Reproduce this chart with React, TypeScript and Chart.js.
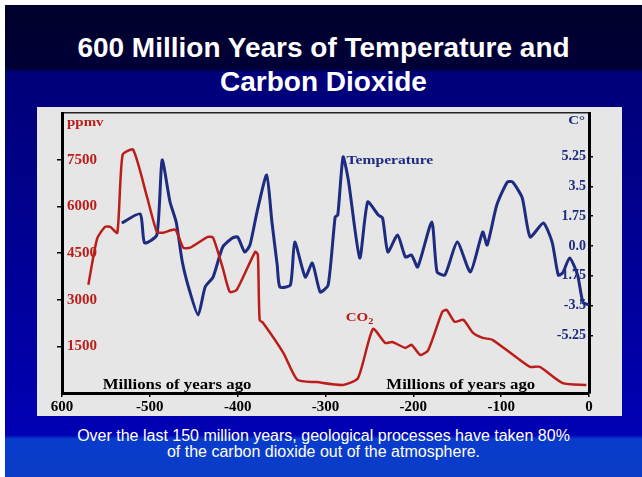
import React, { useEffect, useRef } from "react";
import { Chart, registerables } from "chart.js";

Chart.register(...registerables);

// ---- Data ----
const co2Years = [-570, -560, -551, -545, -537, -531, -519, -503, -492, -485, -471, -462, -454, -434, -428, -417, -409, -401, -380, -377, -375, -371, -348, -332, -310, -280, -263, -246, -232, -224, -209, -202, -192, -183, -167, -162, -153, -143, -132, -121, -110, -82, -67, -56, -30, -3];
const co2Ppm = [3480, 4960, 5340, 5340, 5150, 7660, 7820, 6280, 5180, 5150, 5250, 4670, 4670, 5020, 4990, 4020, 3250, 3320, 4540, 4440, 2350, 2250, 1290, 420, 350, 260, 480, 2060, 1610, 1640, 1450, 1550, 1220, 1380, 2610, 2670, 2290, 2350, 1930, 1770, 1710, 1130, 840, 840, 320, 260];

const tempYears = [-532, -511, -506, -492, -486, -477, -470, -463, -455, -445, -437, -428, -417, -406, -400, -392, -386, -378, -367, -361, -355, -352, -340, -335, -323, -315, -306, -297, -289, -286, -280, -274, -261, -252, -240, -235, -229, -218, -209, -202, -195, -179, -173, -164, -150, -135, -121, -116, -105, -93, -87, -76, -67, -52, -42, -35, -30, -22, -13, -7, 0];
const tempC = [1.35, 1.88, 0.18, 0.65, 5.04, 2.58, 1.41, -0.94, -2.58, -4.05, -2.4, -1.82, -0.06, 0.47, 0.53, -0.35, 0.06, 1.99, 4.16, 1.41, -1.11, -2.4, -2.29, 0.23, -1.82, -1.0, -2.7, -2.29, 1.7, 1.82, 5.22, 3.87, -0.7, 2.58, 1.82, 1.64, -0.35, 0.65, -0.65, -0.53, -1.23, 1.41, -1.52, -1.7, 0.23, -1.52, 0.82, 0.06, 2.4, 3.75, 3.75, 2.82, 0.53, 1.35, 0.23, -1.7, -1.58, -0.7, -1.7, -3.28, -3.46];

const xTicks = [-600, -500, -400, -300, -200, -100, 0];
const xTickLabels = ["600", "-500", "-400", "-300", "-200", "-100", "0"];
const ppmTicks = [1500, 3000, 4500, 6000, 7500];
const ppmTickLabels = ["1500", "3000", "4500", "6000", "7500"];
const tempTicks = [5.25, 3.5, 1.75, 0, -1.75, -3.5, -5.25];
const tempTickLabels = ["5.25", "3.5", "1.75", "0.0", "-1.75", "-3.5", "-5.25"];

const titleLines = ["600 Million Years of Temperature and", "Carbon Dioxide"];
const captionLines = [
  "Over the last 150 million years, geological processes have taken 80%",
  "of the carbon dioxide out of the atmosphere.",
];
const xAxisNote = "Millions of years ago";

const RED = "#bb1e1a";
const BLUE = "#1d2b80";
const SERIF = '"Liberation Serif", "Times New Roman", serif';

function stretchedText(ctx: any, text: string, x: number, y: number, sx: number, align: string) {
  const w = ctx.measureText(text).width * sx;
  let left = x;
  if (align === "center") left = x - w / 2;
  else if (align === "right") left = x - w;
  ctx.save();
  ctx.textAlign = "left";
  ctx.translate(left, y);
  ctx.scale(sx, 1);
  ctx.fillText(text, 0, 0);
  ctx.restore();
  return w;
}

function fixSize(prop: "width" | "height", size: number) {
  return (s: any) => {
    s[prop] = size;
    s.paddingTop = 0;
    s.paddingBottom = 0;
    s.paddingLeft = 0;
    s.paddingRight = 0;
  };
}

const annotations = {
  id: "annotations",
  afterDatasetsDraw(chart: any) {
    const { ctx, chartArea, scales } = chart;
    const x = scales.x;
    const yL = scales.yL;
    const yR = scales.yR;
    ctx.save();
    ctx.textBaseline = "middle";

    ctx.font = `bold 13px ${SERIF}`;
    ctx.fillStyle = RED;
    stretchedText(ctx, "ppmv", chartArea.left + 5, yL.getPixelForValue(8700), 1.15, "left");

    ctx.fillStyle = BLUE;
    stretchedText(ctx, "C°", chartArea.right - 4, yR.getPixelForValue(7.35), 1.15, "right");

    ctx.font = `bold 12px ${SERIF}`;
    stretchedText(ctx, "Temperature", x.getPixelForValue(-276), yR.getPixelForValue(5.0), 1.3, "left");

    ctx.font = `bold 13px ${SERIF}`;
    ctx.fillStyle = RED;
    const cx = x.getPixelForValue(-277);
    const cy = yL.getPixelForValue(2420);
    const w = stretchedText(ctx, "CO", cx, cy, 1.15, "left");
    ctx.font = `bold 9px ${SERIF}`;
    stretchedText(ctx, "2", cx + w, cy + 4, 1.15, "left");

    ctx.font = `bold 15px ${SERIF}`;
    ctx.fillStyle = "#000";
    stretchedText(ctx, xAxisNote, x.getPixelForValue(-469), yL.getPixelForValue(250), 1.12, "center");
    stretchedText(ctx, xAxisNote, x.getPixelForValue(-146), yL.getPixelForValue(250), 1.12, "center");
    ctx.restore();
  },
};

export default function App() {
  const ref = useRef<HTMLCanvasElement>(null);

  useEffect(() => {
    document.body.style.margin = "0";
    const chart = new Chart(ref.current as HTMLCanvasElement, {
      type: "line",
      data: {
        datasets: [
          {
            label: "CO2",
            data: co2Years.map((yr, i) => ({ x: yr, y: co2Ppm[i] })),
            xAxisID: "x",
            yAxisID: "yL",
            borderColor: RED,
            borderWidth: 2.5,
            pointRadius: 0,
            tension: 0.2,
          },
          {
            label: "Temperature",
            data: tempYears.map((yr, i) => ({ x: yr, y: tempC[i] })),
            xAxisID: "x",
            yAxisID: "yR",
            borderColor: BLUE,
            borderWidth: 3,
            pointRadius: 0,
            tension: 0.2,
          },
        ],
      },
      options: {
        responsive: false,
        animation: false,
        layout: { padding: 0 },
        plugins: { legend: { display: false }, tooltip: { enabled: false } },
        scales: {
          x: {
            type: "linear",
            position: "bottom",
            min: -600,
            max: 0,
            afterBuildTicks: (s: any) => {
              s.ticks = xTicks.map((v) => ({ value: v }));
            },
            afterFit: fixSize("height", 23),
            ticks: {
              autoSkip: false,
              maxRotation: 0,
              padding: 1,
              color: "#000",
              font: { family: SERIF, size: 15, weight: "bold" },
              callback: (_v: any, i: number) => xTickLabels[i],
            },
            grid: { display: true, drawOnChartArea: false, drawTicks: true, tickLength: 4, color: "#000", lineWidth: 1.5 },
            border: { display: true, color: "#000", width: 3 },
          },
          xTop: {
            type: "linear",
            axis: "x",
            position: "top",
            min: -600,
            max: 0,
            afterFit: fixSize("height", 6),
            ticks: { display: false },
            grid: { display: false },
            border: { display: true, color: "#222", width: 1.5 },
          },
          yL: {
            type: "linear",
            position: "left",
            min: 0,
            max: 9000,
            afterBuildTicks: (s: any) => {
              s.ticks = ppmTicks.map((v) => ({ value: v }));
            },
            afterFit: fixSize("width", 25),
            ticks: {
              mirror: true,
              padding: 5,
              color: RED,
              font: { family: SERIF, size: 15, weight: "bold" },
              callback: (_v: any, i: number) => ppmTickLabels[i],
            },
            grid: { display: true, drawOnChartArea: false, drawTicks: true, tickLength: 5, color: "#000", lineWidth: 1.5 },
            border: { display: true, color: "#000", width: 3 },
          },
          yR: {
            type: "linear",
            position: "right",
            min: -8.62,
            max: 7.8,
            afterBuildTicks: (s: any) => {
              s.ticks = tempTicks.map((v) => ({ value: v }));
            },
            afterFit: fixSize("width", 33),
            ticks: {
              mirror: true,
              padding: -3,
              color: BLUE,
              font: { family: SERIF, size: 14, weight: "bold" },
              callback: (_v: any, i: number) => tempTickLabels[i],
            },
            grid: { display: true, drawOnChartArea: false, drawTicks: true, tickLength: 4, color: "#000", lineWidth: 1.5 },
            border: { display: true, color: "#000", width: 3 },
          },
        },
      } as any,
      plugins: [annotations],
    });
    return () => chart.destroy();
  }, []);

  return (
    <div style={{ position: "relative", width: 642, height: 477, background: "#fff", overflow: "hidden" }}>
      <div
        style={{
          position: "absolute",
          left: 5,
          top: 5,
          width: 637,
          height: 472,
          background:
            "linear-gradient(to bottom, #00002a 0px, #000038 64px, #000078 67px, #00008c 200px, #0000b4 430px, #0a3ccc 434px, #0a3cc8 472px)",
        }}
      >
        <div
          style={{
            position: "absolute",
            left: 0,
            right: 0,
            top: 26,
            textAlign: "center",
            color: "#fff",
            fontFamily: '"Liberation Sans", Arial, sans-serif',
            fontWeight: "bold",
            fontSize: 28,
            lineHeight: "34px",
            whiteSpace: "nowrap",
          }}
        >
          {titleLines[0]}
          <br />
          {titleLines[1]}
        </div>
        <div style={{ position: "absolute", left: 32, top: 102, width: 585, height: 309, background: "#e6e6e6" }}>
          <canvas ref={ref} width={585} height={309} style={{ display: "block" }} />
        </div>
        <div
          style={{
            position: "absolute",
            left: 0,
            right: 0,
            top: 423,
            textAlign: "center",
            color: "#fff",
            fontFamily: '"Liberation Sans", Arial, sans-serif',
            fontSize: 16,
            lineHeight: "16px",
            whiteSpace: "nowrap",
          }}
        >
          {captionLines[0]}
          <br />
          {captionLines[1]}
        </div>
      </div>
    </div>
  );
}
